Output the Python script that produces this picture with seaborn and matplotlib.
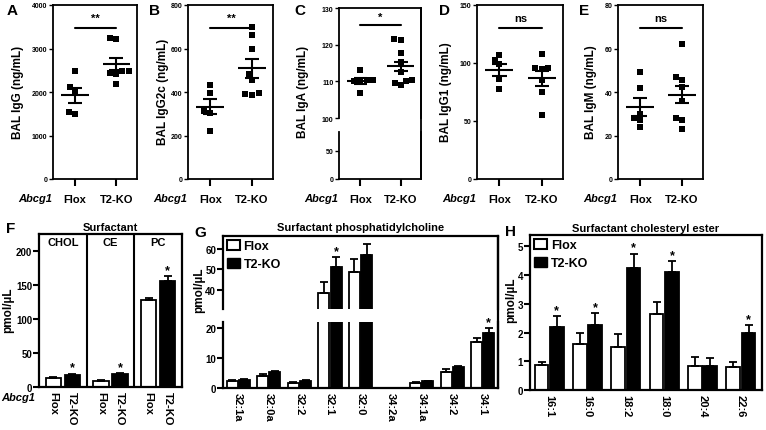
import numpy as np
import pandas as pd
import matplotlib
matplotlib.use('Agg')
import matplotlib.pyplot as plt
from matplotlib.patches import Patch
from matplotlib.lines import Line2D
import seaborn as sns

# ======================
# 1. Dados
# ======================
groups = ['Flox', 'T2-KO']

# A - IgG
igg_flox = [2480, 2110, 2010, 1490, 1550]
igg_ko = [3220, 3240, 2490, 2440, 2410, 2480, 2180]
igg_mean = [1920, 2640]
igg_sem = [180, 140]

# B - IgG2c
igg2c_flox = [434, 394, 311, 303, 222]
igg2c_ko = [700, 664, 598, 483, 457, 395, 388, 391]
igg2c_mean = [333, 510]
igg2c_sem = [36, 44]

# C - IgA
iga_flox = [113.2, 110.5, 110.4, 109.8, 110.0, 106.8]
iga_ko = [121.2, 121.6, 117.7, 115.3, 112.5, 110.1, 108.9, 109.5, 110.3]
iga_mean = [110.1, 114.1]
iga_sem = [0.8, 1.3]

# D - IgG1
igg1_flox = [107, 103, 99, 86, 78]
igg1_ko = [108, 96, 95, 96, 85, 75, 55]
igg1_mean = [94, 87]
igg1_sem = [5.5, 6.5]

# E - IgM
igm_flox = [49, 42, 30, 28, 24, 27]
igm_ko = [62, 47, 45.5, 42.5, 36, 28, 27, 23]
igm_mean = [33, 38.8]
igm_sem = [4.2, 4.0]

# F - Surfactant
surf_cats = ['CHOL', 'CE', 'PC']
surf_flox = [13.7, 8.8, 127.5]
surf_flox_err = [1.5, 1.3, 4.0]
surf_ko = [18.0, 18.5, 155.4]
surf_ko_err = [1.8, 2.0, 7.3]
surf_sig = ['*', '*', '*']

# G - fosfatidilcolina
pc_species = ['32:1a', '32:0a', '32:2', '32:1', '32:0', '34:2a', '34:1a', '34:2', '34:1']
pc_flox = [2.4, 4.1, 1.7, 38.7, 48.9, 0.0, 1.7, 5.2, 15.2]
pc_flox_err = [0.2, 0.5, 0.2, 5.4, 6.0, 0.0, 0.2, 1.0, 1.4]
pc_ko = [2.8, 5.2, 2.4, 51.0, 56.8, 0.0, 2.3, 7.0, 18.3]
pc_ko_err = [0.2, 0.4, 0.2, 4.7, 5.6, 0.0, 0.2, 0.5, 1.6]
pc_sig = ['', '', '', '*', '', '', '', '', '*']

# H - colesteril ester
ce_species = ['16:1', '16:0', '18:2', '18:0', '20:4', '22:6']
ce_flox = [0.88, 1.6, 1.5, 2.65, 0.85, 0.8]
ce_flox_err = [0.1, 0.4, 0.45, 0.4, 0.3, 0.17]
ce_ko = [2.2, 2.25, 4.25, 4.1, 0.83, 2.0]
ce_ko_err = [0.38, 0.44, 0.5, 0.38, 0.29, 0.26]
ce_sig = ['*', '*', '*', '*', '', '*']

# ======================
# 2. Estilo
# ======================
sns.set_style('ticks', rc={'axes.edgecolor': 'black', 'xtick.color': 'black',
                           'ytick.color': 'black', 'text.color': 'black',
                           'axes.labelcolor': 'black'})
plt.rcParams['font.family'] = ['Liberation Sans', 'DejaVu Sans']
plt.rcParams['font.weight'] = 'bold'
plt.rcParams['axes.titleweight'] = 'bold'
plt.rcParams['axes.labelweight'] = 'bold'

bar_colors = {'Flox': 'white', 'T2-KO': 'black'}

W, H = 766, 431
fig = plt.figure(figsize=(W / 100, H / 100), dpi=100)


def add_ax(x0, y0, x1, y1):
    # caixa em pixels (origem no topo)
    return fig.add_axes([x0 / W, 1 - y1 / H, (x1 - x0) / W, (y1 - y0) / H])


def fig_text(x, y, s, **kw):
    fig.text(x / W, 1 - y / H, s, **kw)


def fig_vline(x, y0, y1, lw):
    fig.add_artist(Line2D([x / W, x / W], [1 - y0 / H, 1 - y1 / H],
                          transform=fig.transFigure, color='black', lw=lw))


# ======================
# 3. Paineis A-E (dispersao)
# ======================
def draw_scatter(ax, flox, ko, mean, sem):
    df = pd.DataFrame({'grupo': ['Flox'] * len(flox) + ['T2-KO'] * len(ko),
                       'valor': flox + ko})
    sns.swarmplot(data=df, x='grupo', y='valor', order=groups, color='black',
                  marker='s', size=4.6, linewidth=0, ax=ax)
    for i in range(2):
        ax.hlines(mean[i], i - 0.33, i + 0.33, color='black', lw=1.5)
        ax.hlines([mean[i] - sem[i], mean[i] + sem[i]], i - 0.17, i + 0.17,
                  color='black', lw=1.5)
        ax.vlines(i, mean[i] - sem[i], mean[i] + sem[i], color='black', lw=1.5)
    ax.set_xlabel('')
    ax.set_ylabel('')
    ax.set_xlim(-0.53, 1.5)


def style_scatter(ax, show_x=True):
    ax.tick_params(axis='y', labelsize=5, length=3, width=1, pad=1)
    if show_x:
        ax.set_xticks([0, 1])
        ax.set_xticklabels(groups)
        ax.tick_params(axis='x', labelsize=8, length=5, width=1.5, pad=6)
    else:
        ax.set_xticks([])
    for sp in ax.spines.values():
        sp.set_linewidth(1.3)


def draw_sig(ax, text, frac):
    lo, hi = ax.get_ylim()
    yb = lo + frac * (hi - lo)
    ax.plot([0, 1], [yb, yb], color='black', lw=1.5)
    ax.text(0.5, yb + 0.025 * (hi - lo), text, ha='center', va='bottom',
            fontsize=8, fontweight='bold')


scatter_panels = [
    ('A', 'BAL IgG (ng/mL)', igg_flox, igg_ko, igg_mean, igg_sem, '**',
     [0, 1000, 2000, 3000, 4000], (53, 137), 12, 18),
    ('B', 'BAL IgG2c (ng/mL)', igg2c_flox, igg2c_ko, igg2c_mean, igg2c_sem, '**',
     [0, 200, 400, 600, 800], (188, 273), 155, 163),
    ('D', 'BAL IgG1 (ng/mL)', igg1_flox, igg1_ko, igg1_mean, igg1_sem, 'ns',
     [0, 50, 100, 150], (477, 563), 444, 446),
    ('E', 'BAL IgM (ng/mL)', igm_flox, igm_ko, igm_mean, igm_sem, 'ns',
     [0, 20, 40, 60, 80], (618, 703), 584, 591),
]

for letra, ylab, fl, ko, mn, se, sig, yt, (x0, x1), lx, yx in scatter_panels:
    ax = add_ax(x0, 6, x1, 180)
    draw_scatter(ax, fl, ko, mn, se)
    ax.set_ylim(yt[0], yt[-1])
    ax.set_yticks(yt)
    style_scatter(ax)
    draw_sig(ax, sig, 0.87)
    fig_text(lx, 11, letra, fontsize=11, fontweight='bold', ha='center', va='center')
    fig_text(yx, 92, ylab, fontsize=8.5, rotation=90, ha='center', va='center')
    fig_text(x0 - 1, 199, 'Abcg1', fontsize=8, style='italic', ha='right', va='center')

# C com eixo quebrado
axC_up = add_ax(339, 9, 421, 119)
axC_lo = add_ax(339, 133, 421, 180)
draw_scatter(axC_up, iga_flox, iga_ko, iga_mean, iga_sem)
axC_up.set_ylim(100, 130)
axC_up.set_yticks([100, 110, 120, 130])
style_scatter(axC_up, show_x=False)
axC_up.spines['bottom'].set_visible(False)
draw_sig(axC_up, '*', 0.85)
axC_lo.set_xlim(-0.53, 1.5)
axC_lo.set_ylim(0, 83)
axC_lo.set_yticks([0, 50])
style_scatter(axC_lo)
axC_lo.spines['top'].set_visible(False)
fig_vline(421, 9, 180, 1.3)
fig_text(300, 11, 'C', fontsize=11, fontweight='bold', ha='center', va='center')
fig_text(303, 92, 'BAL IgA (ng/mL)', fontsize=8.5, rotation=90, ha='center', va='center')
fig_text(338, 199, 'Abcg1', fontsize=8, style='italic', ha='right', va='center')


# ======================
# 4. Paineis F-H (barras)
# ======================
def bar_panel(ax, cats, flox, flox_err, ko, ko_err, stars, gap):
    df = pd.DataFrame({'cat': cats * 2,
                       'geno': ['Flox'] * len(cats) + ['T2-KO'] * len(cats),
                       'val': flox + ko})
    sns.barplot(data=df, x='cat', y='val', hue='geno', order=cats, hue_order=groups,
                palette=bar_colors, saturation=1, edgecolor='black', linewidth=1.3,
                errorbar=None, gap=gap, legend=False, ax=ax)
    bars = list(ax.containers[:2])
    for cont, vals, errs in zip(bars, [flox, ko], [flox_err, ko_err]):
        xs = [b.get_x() + b.get_width() / 2 for b in cont]
        ax.errorbar(xs, vals, yerr=[np.zeros(len(errs)), errs], fmt='none',
                    ecolor='black', elinewidth=1.3, capsize=3, capthick=1.3, zorder=1)
    for b, v, e, s in zip(bars[1], ko, ko_err, stars):
        if s:
            ax.annotate(s, (b.get_x() + b.get_width() / 2, v + e), xytext=(0, 0),
                        textcoords='offset points', ha='center', va='bottom',
                        fontsize=9, fontweight='bold', annotation_clip=True)
    ax.set_xlabel('')
    ax.set_ylabel('')
    ax.tick_params(axis='y', labelsize=7, length=4, width=1.5, pad=1)
    ax.tick_params(axis='x', labelsize=8, length=0, pad=3)
    for sp in ax.spines.values():
        sp.set_linewidth(1.6)
    return bars


def legend_box(ax):
    handles = [Patch(facecolor='white', edgecolor='black', linewidth=1.5),
               Patch(facecolor='black', edgecolor='black')]
    ax.legend(handles, groups, loc='upper left', frameon=False,
              prop={'weight': 'bold', 'size': 9}, handlelength=1.05,
              handleheight=0.85, handletextpad=0.3, labelspacing=0.45,
              borderaxespad=0.2, borderpad=0.1)


# F
axF = add_ax(39, 235, 182, 388)
barsF = bar_panel(axF, surf_cats, surf_flox, surf_flox_err, surf_ko, surf_ko_err,
                  surf_sig, gap=0.2)
axF.set_xlim(-0.5, 2.5)
axF.set_ylim(0, 225)
axF.set_yticks([0, 50, 100, 150, 200])
for xv in [0.5, 1.5]:
    axF.axvline(xv, color='black', lw=1.5)
for i, c in enumerate(surf_cats):
    axF.text(i, 0.95, c, transform=axF.get_xaxis_transform(), ha='center',
             va='center', fontsize=8, fontweight='bold')
pos, labs = [], []
for cont, g in zip(barsF, groups):
    for b in cont:
        pos.append(b.get_x() + b.get_width() / 2)
        labs.append(g)
ordem = np.argsort(pos)
axF.set_xticks(np.array(pos)[ordem])
axF.set_xticklabels(np.array(labs)[ordem], rotation=-90, ha='center', va='top')
axF.set_title('Surfactant', fontsize=8, pad=3)
fig_text(11, 229, 'F', fontsize=11, fontweight='bold', ha='center', va='center')
fig_text(8, 310, 'pmol/\u00b5L', fontsize=8.5, rotation=90, ha='center', va='center')
fig_text(1, 398, 'Abcg1', fontsize=8, style='italic', ha='left', va='center')

# G com eixo quebrado
axG_up = add_ax(223, 237, 498, 310)
axG_lo = add_ax(223, 323, 498, 389)
for ax in (axG_up, axG_lo):
    bar_panel(ax, pc_species, pc_flox, pc_flox_err, pc_ko, pc_ko_err, pc_sig, gap=0.1)
    ax.set_xlim(-0.5, 8.5)
axG_up.set_ylim(31, 66)
axG_up.set_yticks([40, 50, 60])
axG_up.set_xticks([])
axG_up.spines['bottom'].set_visible(False)
axG_lo.set_ylim(0, 22)
axG_lo.set_yticks([0, 10, 20])
axG_lo.spines['top'].set_visible(False)
axG_lo.set_xticks(range(len(pc_species)))
axG_lo.set_xticklabels(pc_species, rotation=-90, ha='center', va='top')
fig_vline(498, 237, 389, 1.6)
legend_box(axG_up)
axG_up.set_title('Surfactant phosphatidylcholine', fontsize=8, pad=4)
fig_text(200, 233, 'G', fontsize=11, fontweight='bold', ha='center', va='center')
fig_text(199, 290, 'pmol/\u00b5L', fontsize=8.5, rotation=90, ha='center', va='center')

# H
axH = add_ax(530, 236, 762, 391)
bar_panel(axH, ce_species, ce_flox, ce_flox_err, ce_ko, ce_ko_err, ce_sig, gap=0.1)
axH.set_xlim(-0.5, 5.55)
axH.set_ylim(0, 5.4)
axH.set_yticks([0, 1, 2, 3, 4, 5])
axH.set_xticks(range(len(ce_species)))
axH.set_xticklabels(ce_species, rotation=-90, ha='center', va='top')
legend_box(axH)
axH.set_title('Surfactant cholesteryl ester', fontsize=8, pad=3)
fig_text(510, 232, 'H', fontsize=11, fontweight='bold', ha='center', va='center')
fig_text(511, 300, 'pmol/\u00b5L', fontsize=8.5, rotation=90, ha='center', va='center')

plt.savefig('out.png', dpi=100)
